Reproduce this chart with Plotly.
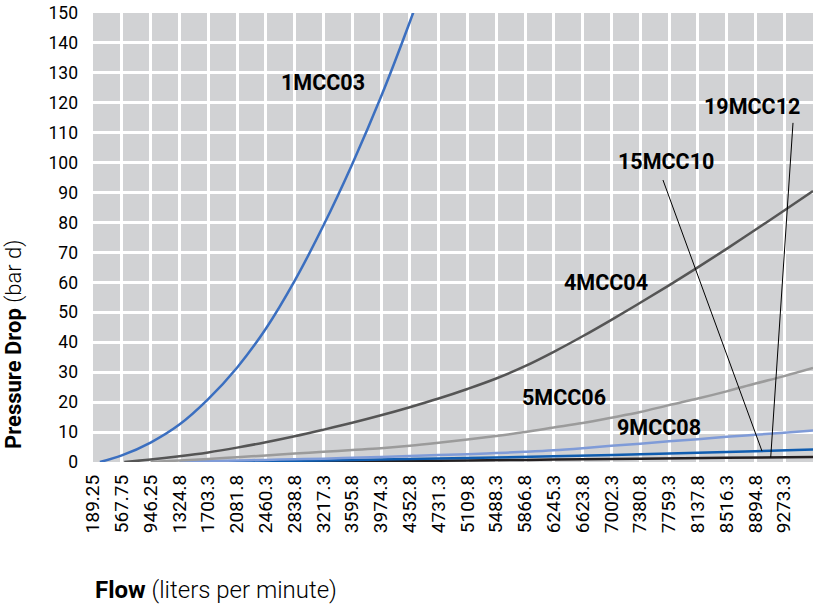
import numpy as np
import plotly.graph_objects as go

# ---- data ----
tick_flows = [189.25, 567.75, 946.25, 1324.8, 1703.3, 2081.8, 2460.3, 2838.8, 3217.3,
              3595.8, 3974.3, 4352.8, 4731.3, 5109.8, 5488.3, 5866.8, 6245.3, 6623.8,
              7002.3, 7380.8, 7759.3, 8137.8, 8516.3, 8894.8, 9273.3]
tick_labels = ["189.25", "567.75", "946.25", "1324.8", "1703.3", "2081.8", "2460.3", "2838.8",
               "3217.3", "3595.8", "3974.3", "4352.8", "4731.3", "5109.8", "5488.3", "5866.8",
               "6245.3", "6623.8", "7002.3", "7380.8", "7759.3", "8137.8", "8516.3", "8894.8",
               "9273.3"]

flow_1mcc03 = [280, 567.75, 946.25, 1324.8, 1703.3, 2081.8, 2460.3, 2838.8, 3217.3, 3595.8, 3974.3, 4352.8, 4731.3]
dp_1mcc03 = [0, 2.2, 6.5, 12.5, 21.0, 31.5, 44.5, 60.5, 79.0, 99.5, 122.0, 147.0, 174.0]

flow_4mcc04 = [600, 946.25, 1324.8, 1703.3, 2081.8, 2460.3, 2838.8, 3217.3, 3595.8, 3974.3, 4352.8, 4731.3,
               5109.8, 5488.3, 5866.8, 6245.3, 6623.8, 7002.3, 7380.8, 7759.3, 8137.8, 8516.3, 8894.8, 9273.3, 9651.75]
dp_4mcc04 = [0, 0.8, 1.9, 3.2, 4.8, 6.6, 8.6, 10.8, 13.1, 15.6, 18.3, 21.2,
             24.4, 27.9, 32.0, 36.8, 42.0, 47.5, 53.2, 59.0, 65.0, 71.2, 77.6, 84.0, 90.5]

flow_5mcc06 = [946.25, 1324.8, 1703.3, 2081.8, 2460.3, 2838.8, 3217.3, 3595.8, 3974.3, 4352.8, 4731.3,
               5109.8, 5488.3, 5866.8, 6245.3, 6623.8, 7002.3, 7380.8, 7759.3, 8137.8, 8516.3, 8894.8, 9273.3, 9651.75]
dp_5mcc06 = [0, 0.5, 1.0, 1.6, 2.2, 2.8, 3.4, 4.0, 4.6, 5.4, 6.4,
             7.5, 8.7, 10.0, 11.5, 13.0, 14.8, 16.7, 19.0, 21.2, 23.6, 26.2, 28.7, 31.4]

flow_9mcc08 = [1324.8, 1703.3, 2081.8, 2460.3, 2838.8, 3217.3, 3595.8, 3974.3, 4352.8, 4731.3,
               5109.8, 5488.3, 5866.8, 6245.3, 6623.8, 7002.3, 7380.8, 7759.3, 8137.8, 8516.3, 8894.8, 9273.3, 9651.75]
dp_9mcc08 = [0, 0.3, 0.5, 0.7, 0.9, 1.1, 1.4, 1.7, 2.0, 2.3,
             2.6, 3.0, 3.4, 3.9, 4.6, 5.4, 6.1, 6.9, 7.6, 8.4, 9.1, 9.8, 10.5]

flow_15mcc10 = [1703.3, 2838.8, 3974.3, 5109.8, 6245.3, 7380.8, 8516.3, 9651.75]
dp_15mcc10 = [0, 0.4, 0.8, 1.3, 1.9, 2.6, 3.3, 4.2]

flow_19mcc12 = [2460.3, 3217.3, 3974.3, 5109.8, 6245.3, 7380.8, 8516.3, 9651.75]
dp_19mcc12 = [0, 0.15, 0.3, 0.5, 0.8, 1.1, 1.4, 1.7]

y_ticks = list(range(0, 151, 10))

LABEL_FONT = "Roboto, Arial, sans-serif"
TICK_FONT = "Roboto, Arial, sans-serif"

series = [
    ("19MCC12", flow_19mcc12, dp_19mcc12, "#231f20", 2.5),
    ("15MCC10", flow_15mcc10, dp_15mcc10, "#105db0", 2.5),
    ("9MCC08", flow_9mcc08, dp_9mcc08, "#7f9bd8", 2.5),
    ("5MCC06", flow_5mcc06, dp_5mcc06, "#9b9b9b", 2.5),
    ("4MCC04", flow_4mcc04, dp_4mcc04, "#555555", 2.5),
    ("1MCC03", flow_1mcc03, dp_1mcc03, "#3b6fc0", 2.5),
]

fig = go.Figure()
for name, fx, fy, col, w in series:
    fig.add_trace(go.Scatter(x=fx, y=fy, mode="lines", name=name,
                             line=dict(color=col, width=w, shape="spline", smoothing=1.0),
                             cliponaxis=True, showlegend=False))

# labels
labels = [
    ("1MCC03", 3212, 126.7),
    ("4MCC04", 6935, 60.0),
    ("5MCC06", 6377, 21.6),
    ("9MCC08", 7634, 11.6),
    ("15MCC10", 7722, 100.3),
    ("19MCC12", 8853, 118.9),
]
for txt, lx, ly in labels:
    fig.add_annotation(x=lx, y=ly, xref="x", yref="y", text=txt, showarrow=False,
                       font=dict(family=LABEL_FONT, size=21.5, color="#000000", weight="bold"),
                       xanchor="center", yanchor="middle")

# leader lines
p15 = 8981
p19 = 9096
fig.add_shape(type="line", xref="x", yref="y", x0=7680, y0=94.2,
              x1=p15, y1=float(np.interp(p15, flow_15mcc10, dp_15mcc10)),
              line=dict(color="#000000", width=1))
fig.add_shape(type="line", xref="x", yref="y", x0=9389, y0=113.3,
              x1=p19, y1=float(np.interp(p19, flow_19mcc12, dp_19mcc12)),
              line=dict(color="#000000", width=1))

# axis titles
fig.add_annotation(x=-0.1097, y=0.2606, xref="paper", yref="paper",
                   text="<b>Pressure Drop</b> (bar d)", textangle=-90, showarrow=False,
                   font=dict(family="Roboto, Arial, sans-serif", size=22, color="#000000", weight=300),
                   xanchor="center", yanchor="middle")
fig.add_annotation(x=0, y=-0.285, xref="paper", yref="paper",
                   text="<b>Flow</b> (liters per minute)", showarrow=False,
                   font=dict(family="Roboto, Arial, sans-serif", size=24, color="#000000", weight=300),
                   xanchor="left", yanchor="middle")

fig.update_layout(
    width=818, height=604,
    margin=dict(l=93, r=5, t=13, b=142),
    paper_bgcolor="#ffffff", plot_bgcolor="#d1d2d4",
    showlegend=False,
)
fig.update_xaxes(range=[189.25, 9651.75], tickmode="array", tickvals=tick_flows, ticktext=tick_labels,
                 tickangle=-90, showgrid=True, gridcolor="#ffffff", gridwidth=3,
                 zeroline=False, showline=False, ticks="", ticklabelstandoff=8, automargin=False,
                 tickfont=dict(family=TICK_FONT, size=19, color="#000000"))
fig.update_yaxes(range=[0, 150], tickmode="array", tickvals=y_ticks,
                 showgrid=True, gridcolor="#ffffff", gridwidth=3,
                 zeroline=False, showline=False, ticks="", ticklabelstandoff=14, automargin=False,
                 tickfont=dict(family=TICK_FONT, size=17.5, color="#000000"))

fig.write_html("out.html", config={"displayModeBar": False},
               post_script="document.body.style.margin='0px';document.body.style.overflow='hidden';")
